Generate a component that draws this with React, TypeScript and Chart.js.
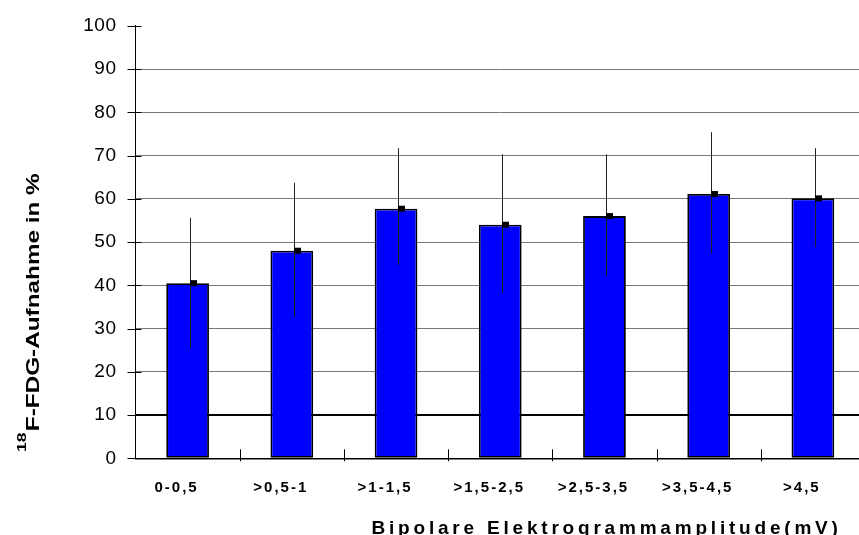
import React, { useEffect, useRef } from 'react';
import { Chart, registerables } from 'chart.js';

Chart.register(...registerables);

const categories = ['0-0,5', '>0,5-1', '>1-1,5', '>1,5-2,5', '>2,5-3,5', '>3,5-4,5', '>4,5'];
const means = [40.5, 48.0, 57.7, 54.0, 56.0, 61.1, 60.1];
const errUpper = [55.6, 63.7, 71.7, 70.3, 70.3, 75.4, 71.7];
const errLower = [25.4, 32.6, 44.7, 38.2, 42.2, 47.4, 48.9];
const yMin = 0;
const yMax = 100;
const yStep = 10;
const xTitle = 'Bipolare Elektrogrammamplitude(mV)';
const yTitleSup = '18';
const yTitleMain = 'F-FDG-Aufnahme in %';

const FONT = '"Liberation Sans", Arial, sans-serif';

const decorPlugin = {
  id: 'decor',
  beforeDraw(chart: any) {
    chart.ctx.letterSpacing = '0.5px';
  },
  afterDatasetsDraw(chart: any) {
    const ctx = chart.ctx;
    const meta = chart.getDatasetMeta(0);
    const ys = chart.scales.y;
    ctx.save();
    meta.data.forEach((bar: any, i: number) => {
      const x = Math.round(bar.x + 2) + 0.5;
      ctx.strokeStyle = '#222';
      ctx.lineWidth = 1;
      ctx.beginPath();
      ctx.moveTo(x, ys.getPixelForValue(errUpper[i]));
      ctx.lineTo(x, ys.getPixelForValue(errLower[i]));
      ctx.stroke();
      const my = ys.getPixelForValue(means[i]);
      ctx.fillStyle = '#000';
      ctx.fillRect(x - 0.5, my - 3, 7, 6);
    });
    ctx.restore();
  },
  afterDraw(chart: any) {
    const ctx = chart.ctx;
    const { left, bottom } = chart.chartArea;
    const xs = chart.scales.x;
    const ys = chart.scales.y;
    ctx.save();
    ctx.strokeStyle = '#000';
    ctx.lineWidth = 1;
    // y tick marks crossing the axis
    ys.ticks.forEach((_t: any, i: number) => {
      const py = Math.round(ys.getPixelForTick(i)) + 0.5;
      ctx.beginPath();
      ctx.moveTo(left - 8, py);
      ctx.lineTo(left + 6, py);
      ctx.stroke();
    });
    // x tick marks at category boundaries
    const n = categories.length;
    for (let i = 1; i < n; i++) {
      const px = Math.round((xs.getPixelForValue(i - 1) + xs.getPixelForValue(i)) / 2) + 0.5;
      ctx.beginPath();
      ctx.moveTo(px, bottom - 9);
      ctx.lineTo(px, bottom + 3);
      ctx.stroke();
    }
    // x labels
    ctx.fillStyle = '#000';
    ctx.letterSpacing = '2px';
    ctx.font = 'bold 15px ' + FONT;
    ctx.textAlign = 'center';
    ctx.textBaseline = 'alphabetic';
    categories.forEach((c, i) => {
      ctx.fillText(c, xs.getPixelForValue(i) - 11, bottom + 33.5);
    });
    // x title
    ctx.letterSpacing = '3.8px';
    ctx.font = 'bold 19px ' + FONT;
    ctx.textAlign = 'left';
    ctx.fillText(xTitle, left + 236, bottom + 76);
    // y title
    ctx.letterSpacing = '0px';
    ctx.translate(39, 452);
    ctx.rotate(-Math.PI / 2);
    ctx.scale(1.35, 1);
    ctx.font = 'bold 13px ' + FONT;
    ctx.fillText(yTitleSup, 0, -13);
    const w = ctx.measureText(yTitleSup).width;
    ctx.font = 'bold 18px ' + FONT;
    ctx.fillText(yTitleMain, w + 1, 0);
    ctx.restore();
    ctx.letterSpacing = '0px';
  },
};

export default function App() {
  const ref = useRef<HTMLCanvasElement | null>(null);
  useEffect(() => {
    if (!ref.current) return;
    const chart = new Chart(ref.current, {
      type: 'bar',
      data: {
        labels: categories,
        datasets: [
          {
            data: means,
            backgroundColor: '#0000FF',
            borderColor: '#000',
            borderWidth: 1.8,
            borderSkipped: false,
            barPercentage: 0.41,
            categoryPercentage: 1,
          },
        ],
      },
      options: {
        animation: false,
        responsive: false,
        devicePixelRatio: 1,
        layout: { padding: { top: 25.8, right: 5, bottom: 0, left: 0 } },
        plugins: { legend: { display: false }, tooltip: { enabled: false } },
        scales: {
          x: {
            grid: { display: true, color: 'rgba(0,0,0,0)', drawTicks: false },
            border: { display: true, color: '#000', width: 1.5 },
            ticks: { display: false },
            afterFit: (s: any) => {
              s.height = 76.7;
              s.paddingLeft = 0;
              s.paddingRight = 0;
            },
          },
          y: {
            min: yMin,
            max: yMax,
            ticks: {
              stepSize: yStep,
              color: '#000',
              font: { family: FONT, size: 19 },
              padding: 19,
            },
            grid: {
              drawTicks: false,
              color: (c: any) =>
                c.tick && c.tick.value === 10
                  ? '#000'
                  : c.tick && c.tick.value === 100
                  ? 'rgba(0,0,0,0)'
                  : '#777',
              lineWidth: (c: any) => (c.tick && c.tick.value === 10 ? 2 : 1),
            },
            border: { display: true, color: '#000', width: 1 },
            afterFit: (s: any) => {
              s.width = 135.5;
              s.paddingTop = 0;
              s.paddingBottom = 0;
            },
          },
        },
      },
      plugins: [decorPlugin],
    });
    return () => chart.destroy();
  }, []);
  return (
    <div style={{ position: 'fixed', left: 0, top: 0, width: 859, height: 535, overflow: 'hidden', background: '#fff' }}>
      <canvas ref={ref} width={870} height={535} style={{ display: 'block' }} />
    </div>
  );
}
